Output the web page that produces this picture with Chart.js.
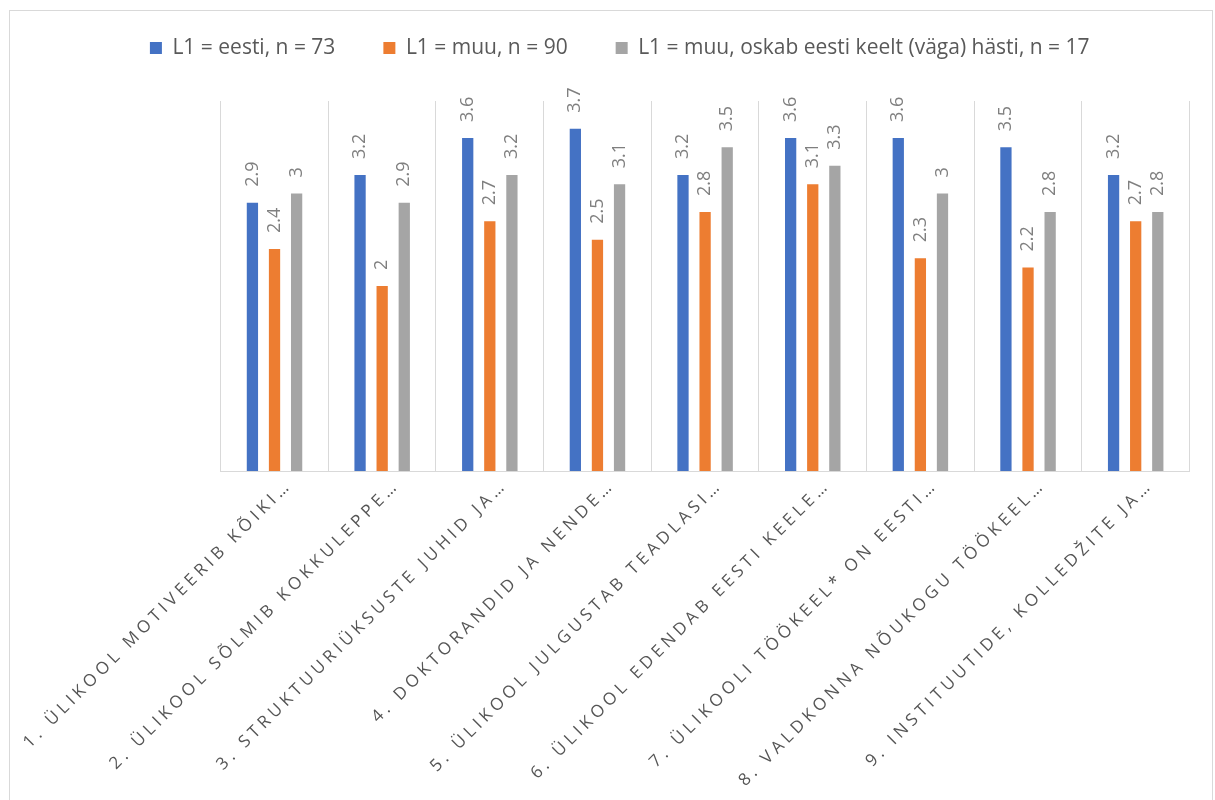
<!DOCTYPE html>
<html>
<head>
<meta charset="utf-8">
<script src="https://cdn.jsdelivr.net/npm/chart.js@4.4.1/dist/chart.umd.min.js"></script>
<style>
  body { margin: 0; background: #fff; }
  #wrap { width: 1215px; height: 800px; }
</style>
</head>
<body>
<div id="wrap"><canvas id="chart" width="1215" height="800"></canvas></div>
<script>
// statements as they appear on the category axis (shortened)
const statements = [
    '1. ÜLIKOOL MOTIVEERIB KÕIKI…',
    '2. ÜLIKOOL SÕLMIB KOKKULEPPE…',
    '3. STRUKTUURIÜKSUSTE JUHID JA…',
    '4. DOKTORANDID JA NENDE…',
    '5. ÜLIKOOL JULGUSTAB TEADLASI…',
    '6. ÜLIKOOL EDENDAB EESTI KEELE…',
    '7. ÜLIKOOLI TÖÖKEEL* ON EESTI…',
    '8. VALDKONNA NÕUKOGU TÖÖKEEL…',
    '9. INSTITUUTIDE, KOLLEDŽITE JA…'
]
const groupNames = [
    'L1 = eesti, n = 73',
    'L1 = muu, n = 90',
    'L1 = muu, oskab eesti keelt (väga) hästi, n = 17'
]
// mean scores per group
const eesti = [2.9, 3.2, 3.6, 3.7, 3.2, 3.6, 3.6, 3.5, 3.2]
const muu = [2.4, 2, 2.7, 2.5, 2.8, 3.1, 2.3, 2.2, 2.7]
const muuOskab = [3, 2.9, 3.2, 3.1, 3.5, 3.3, 3, 2.8, 2.8]

Chart.defaults.font.family = '"Open Sans", sans-serif'

//white background + thin outer frame
const frame = {
    id: 'frame',
    beforeDraw(chart) {
        const ctx = chart.ctx
        ctx.save()
        ctx.fillStyle = '#fff'
        ctx.fillRect(0, 0, chart.width, chart.height)
        ctx.strokeStyle = '#d9d9d9'
        ctx.lineWidth = 1
        ctx.strokeRect(9.5, 10.5, chart.width - 12, chart.height)
        ctx.restore()
    }
}

//more room under the legend
const legendGap = {
    id: 'legendGap',
    beforeInit(chart) {
        const fit = chart.legend.fit
        chart.legend.fit = function () {
            fit.call(this)
            this.height += 32.5
        }
    }
}

//vertical value labels above the bars
const valueLabels = {
    id: 'valueLabels',
    afterDatasetsDraw(chart) {
        const ctx = chart.ctx
        ctx.save()
        ctx.font = '18px "Open Sans"'
        ctx.fillStyle = '#7f7f7f'
        ctx.textAlign = 'left'
        ctx.textBaseline = 'middle'
        chart.data.datasets.forEach((ds, i) => {
            chart.getDatasetMeta(i).data.forEach((bar, j) => {
                ctx.save()
                ctx.translate(bar.x, bar.y - 16)
                ctx.rotate(-Math.PI / 2)
                ctx.fillText(String(ds.data[j]), 0, 0)
                ctx.restore()
            })
        })
        ctx.restore()
    }
}

//category labels at 45 degrees with wide letter spacing
const categoryLabels = {
    id: 'categoryLabels',
    afterDraw(chart) {
        const { ctx, scales: { x } } = chart
        const spacing = 4.2
        ctx.save()
        ctx.font = '17px "Open Sans"'
        ctx.fillStyle = '#555555'
        ctx.textAlign = 'left'
        ctx.textBaseline = 'alphabetic'
        x.ticks.forEach((tick, i) => {
            const chars = Array.from(chart.data.labels[i])
            const widths = chars.map(c => ctx.measureText(c).width)
            const total = widths.reduce((a, b) => a + b, 0) + spacing * (chars.length - 1)
            ctx.save()
            ctx.translate(x.getPixelForTick(i) + 15, x.top + 18)
            ctx.rotate(-Math.PI / 4)
            let pos = -total
            chars.forEach((c, k) => {
                ctx.fillText(c, pos, 0)
                pos += widths[k] + spacing
            })
            ctx.restore()
        })
        ctx.restore()
    }
}

const data = {
    labels: statements,
    datasets: [
        { label: groupNames[0], data: eesti, backgroundColor: '#4472C4' },
        { label: groupNames[1], data: muu, backgroundColor: '#ED7D31' },
        { label: groupNames[2], data: muuOskab, backgroundColor: '#A5A5A5' }
    ]
}

const options = {
    responsive: false,
    animation: false,
    layout: { padding: { top: -10.5, left: 50, right: 25.5, bottom: 0 } },
    datasets: {
        bar: { categoryPercentage: 0.616, barPercentage: 0.51, borderWidth: 0 }
    },
    scales: {
        x: {
            grid: { display: true, offset: true, color: '#d9d9d9', drawTicks: false },
            border: { display: true, color: '#d9d9d9', width: 1 },
            ticks: { display: false },
            afterFit(scale) { scale.height = 329 }
        },
        y: {
            min: 0,
            max: 4,
            ticks: { display: false },
            grid: { display: false },
            border: { display: false },
            afterFit(scale) { scale.width = 170.7 }
        }
    },
    plugins: {
        tooltip: { enabled: false },
        legend: {
            position: 'top',
            labels: {
                boxWidth: 12,
                boxHeight: 12,
                padding: 48,
                color: '#595959',
                font: { size: 21 }
            }
        }
    }
}

new Chart(document.getElementById('chart'), {
    type: 'bar',
    data: data,
    options: options,
    plugins: [frame, legendGap, valueLabels, categoryLabels]
})
</script>
</body>
</html>
